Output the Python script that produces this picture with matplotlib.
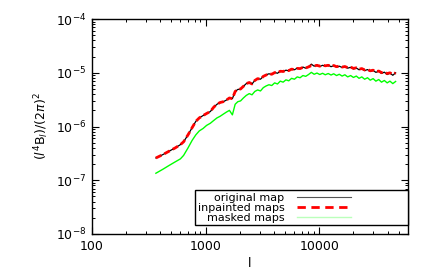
import numpy as np
import matplotlib
matplotlib.use("Agg")
import matplotlib.pyplot as plt
from matplotlib.ticker import LogLocator, FixedLocator, FuncFormatter, NullFormatter
from matplotlib.legend_handler import HandlerLine2D

# multipole l
ell = [365, 420, 480, 540, 600, 640, 700, 760, 820, 880, 950, 1020, 1100, 1180,
       1260, 1340, 1430, 1520, 1620, 1720, 1820, 1920, 2030, 2150, 2280, 2420,
       2560, 2710, 2870, 3040, 3220, 3410, 3610, 3820, 4050, 4290, 4540, 4810,
       5090, 5390, 5710, 6050, 6400, 6780, 7180, 7600, 8050, 8520, 9020, 9550,
       10100, 10700, 11300, 12000, 12700, 13400, 14200, 15000, 15900, 16800,
       17800, 18900, 20000, 21200, 22400, 23700, 25100, 26600, 28100, 29800,
       31500, 33400, 35300, 37400, 39600, 41900, 44400, 47000]

original = [2.6e-7, 3.0e-7, 3.5e-7, 4.0e-7, 4.6e-7, 5.2e-7, 7.0e-7, 9.5e-7,
            1.25e-6, 1.45e-6, 1.6e-6, 1.75e-6, 1.9e-6, 2.3e-6, 2.6e-6, 2.8e-6,
            2.9e-6, 3.1e-6, 3.4e-6, 3.3e-6, 4.5e-6, 4.9e-6, 5.0e-6, 5.6e-6,
            6.3e-6, 6.6e-6, 6.2e-6, 7.2e-6, 7.8e-6, 7.6e-6, 8.6e-6, 9.2e-6,
            9.6e-6, 9.3e-6, 1.02e-5, 9.8e-6, 1.08e-5, 1.05e-5, 1.12e-5, 1.09e-5,
            1.18e-5, 1.14e-5, 1.22e-5, 1.19e-5, 1.28e-5, 1.22e-5, 1.30e-5,
            1.45e-5, 1.33e-5, 1.40e-5, 1.31e-5, 1.38e-5, 1.34e-5, 1.39e-5,
            1.30e-5, 1.36e-5, 1.28e-5, 1.33e-5, 1.26e-5, 1.31e-5, 1.22e-5,
            1.27e-5, 1.18e-5, 1.23e-5, 1.14e-5, 1.19e-5, 1.10e-5, 1.15e-5,
            1.06e-5, 1.11e-5, 1.02e-5, 1.07e-5, 9.7e-6, 1.03e-5, 9.3e-6,
            9.9e-6, 9.0e-6, 1.0e-5]

inpainted = [2.6e-7, 3.0e-7, 3.5e-7, 4.0e-7, 4.6e-7, 5.2e-7, 7.0e-7, 9.5e-7,
             1.25e-6, 1.45e-6, 1.6e-6, 1.75e-6, 1.9e-6, 2.3e-6, 2.6e-6, 2.8e-6,
             2.9e-6, 3.1e-6, 3.4e-6, 3.3e-6, 4.5e-6, 4.9e-6, 5.0e-6, 5.6e-6,
             6.3e-6, 6.6e-6, 6.2e-6, 7.2e-6, 7.8e-6, 7.6e-6, 8.6e-6, 9.1e-6,
             9.7e-6, 9.4e-6, 1.01e-5, 9.9e-6, 1.07e-5, 1.06e-5, 1.11e-5, 1.10e-5,
             1.17e-5, 1.15e-5, 1.21e-5, 1.20e-5, 1.26e-5, 1.23e-5, 1.29e-5,
             1.36e-5, 1.34e-5, 1.38e-5, 1.33e-5, 1.40e-5, 1.35e-5, 1.38e-5,
             1.32e-5, 1.37e-5, 1.30e-5, 1.34e-5, 1.28e-5, 1.31e-5, 1.25e-5,
             1.28e-5, 1.21e-5, 1.24e-5, 1.17e-5, 1.20e-5, 1.13e-5, 1.16e-5,
             1.09e-5, 1.12e-5, 1.05e-5, 1.08e-5, 1.01e-5, 1.04e-5, 9.7e-6,
             1.0e-5, 9.4e-6, 1.0e-5]

masked = [1.35e-7, 1.6e-7, 1.9e-7, 2.2e-7, 2.5e-7, 2.9e-7, 4.0e-7, 5.5e-7,
          7.0e-7, 8.3e-7, 9.2e-7, 1.05e-6, 1.15e-6, 1.3e-6, 1.45e-6, 1.55e-6,
          1.7e-6, 1.85e-6, 2.0e-6, 1.65e-6, 2.6e-6, 2.9e-6, 3.0e-6, 3.4e-6,
          3.8e-6, 4.1e-6, 3.9e-6, 4.5e-6, 4.8e-6, 4.6e-6, 5.3e-6, 5.7e-6,
          6.0e-6, 5.8e-6, 6.5e-6, 6.2e-6, 7.0e-6, 6.7e-6, 7.4e-6, 7.1e-6,
          7.9e-6, 7.6e-6, 8.4e-6, 8.1e-6, 8.9e-6, 8.6e-6, 9.3e-6, 1.02e-5,
          9.4e-6, 9.9e-6, 9.3e-6, 9.8e-6, 9.2e-6, 9.7e-6, 9.1e-6, 9.6e-6,
          8.9e-6, 9.4e-6, 8.7e-6, 9.2e-6, 8.4e-6, 8.9e-6, 8.2e-6, 8.7e-6,
          7.9e-6, 8.4e-6, 7.6e-6, 8.1e-6, 7.3e-6, 7.8e-6, 7.0e-6, 7.5e-6,
          6.7e-6, 7.2e-6, 6.5e-6, 7.0e-6, 6.3e-6, 6.9e-6]

labels = ["original map", "inpainted maps", "masked maps"]
x_ticks = [100, 1000, 10000]
y_ticks = [1e-8, 1e-7, 1e-6, 1e-5, 1e-4]


class ShortLine(HandlerLine2D):
    # draw the sample line only over the left part of the handle box
    def create_artists(self, legend, orig_handle, xdescent, ydescent,
                       width, height, fontsize, trans):
        return super().create_artists(legend, orig_handle, xdescent, ydescent,
                                      width * 0.5, height, fontsize, trans)


plt.rcParams["font.family"] = "DejaVu Sans"
plt.rcParams["mathtext.fontset"] = "dejavusans"

fig = plt.figure(figsize=(4.36, 2.73), dpi=100)
ax = fig.add_axes([0.211, 0.143, 0.724, 0.787])

l1, = ax.plot(ell, original, color="black", lw=0.9)
l2, = ax.plot(ell, inpainted, color="red", lw=2.0, ls=(0, (2.2, 1.2)))
l3, = ax.plot(ell, masked, color="#00ff00", lw=1.0)

ax.set_xscale("log")
ax.set_yscale("log")
ax.set_xlim(100, 60000)
ax.set_ylim(1e-8, 1e-4)

ax.xaxis.set_major_locator(FixedLocator(x_ticks))
ax.xaxis.set_major_formatter(FuncFormatter(lambda v, p: f"{int(round(v))}"))
ax.xaxis.set_minor_locator(LogLocator(base=10, subs=np.arange(2, 10)))
ax.xaxis.set_minor_formatter(NullFormatter())
ax.yaxis.set_major_locator(FixedLocator(y_ticks))
ax.yaxis.set_major_formatter(
    FuncFormatter(lambda v, p: r"$10^{%d}$" % int(round(np.log10(v)))))
ax.yaxis.set_minor_locator(LogLocator(base=10, subs=np.arange(2, 10)))
ax.yaxis.set_minor_formatter(NullFormatter())

ax.tick_params(which="both", direction="in", top=True, right=True,
               labelsize=9, pad=4)
ax.tick_params(which="major", length=5, width=0.8)
ax.tick_params(which="minor", length=2.5, width=0.7)
for s in ax.spines.values():
    s.set_linewidth(1.0)

ax.set_xlabel("l", fontsize=9, labelpad=3)
ax.set_ylabel(r"$(l^4\mathrm{B}_l)/(2\pi)^2$", fontsize=9, labelpad=4)

leg = ax.legend([l1, l2, l3], labels, loc="lower right",
                bbox_to_anchor=(1.0, 0.042), borderaxespad=0,
                markerfirst=False, fontsize=8, handlelength=9.8,
                handletextpad=1.1, labelspacing=0.0, borderpad=0.2,
                fancybox=False, edgecolor="black", framealpha=1,
                handler_map={l1: ShortLine(), l2: ShortLine(), l3: ShortLine()})
leg.get_frame().set_linewidth(1.0)
leg.get_lines()[0].set_linewidth(0.8)
leg.get_lines()[0].set_color("#555555")
leg.get_lines()[1].set_linestyle((0, (3, 2)))
leg.get_lines()[2].set_color("#bbffbb")

fig.savefig("out.png", dpi=100)
